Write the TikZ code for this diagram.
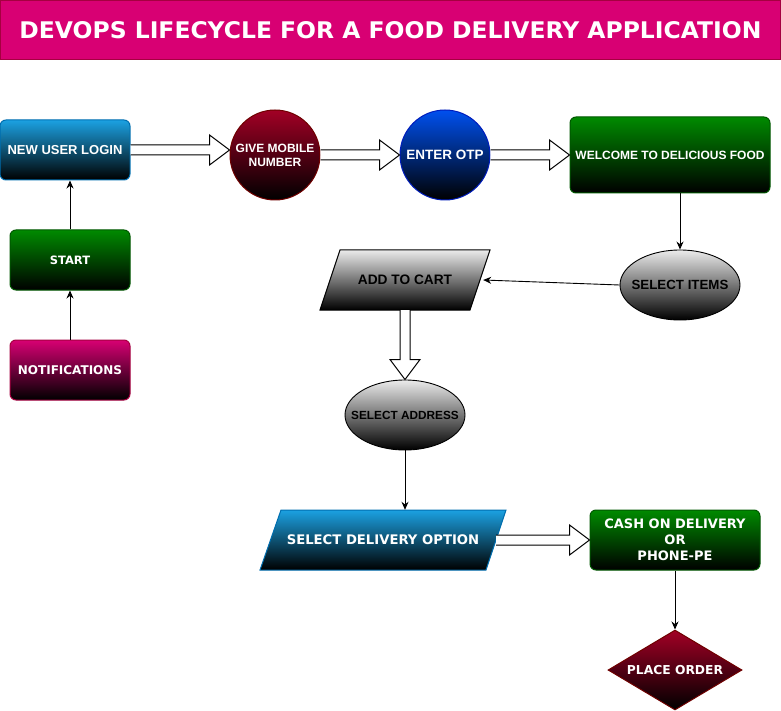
\documentclass[tikz,border=0pt]{standalone}
\usepackage{fontspec}
\setmainfont{Liberation Sans}
\newfontfamily\dvs{DejaVu Sans}
\usetikzlibrary{arrows.meta,calc,shapes.geometric}
\definecolor{magfill}{HTML}{D80073}
\definecolor{magline}{HTML}{A50040}
\definecolor{bluefill}{HTML}{1BA1E2}
\definecolor{blueline}{HTML}{006EAF}
\definecolor{greenfill}{HTML}{008A00}
\definecolor{greenline}{HTML}{005700}
\definecolor{redfill}{HTML}{A20025}
\definecolor{redline}{HTML}{6F0000}
\definecolor{cobfill}{HTML}{0050EF}
\definecolor{cobline}{HTML}{001DBC}
\definecolor{grayfill}{HTML}{EBEBEB}
\newcommand\fsz[2]{\fontsize{#1}{#2}\selectfont}
\newcommand\hblockarrow[2]{\draw[blockarr] ($(#1)+(0,-5)$) -- ($(#2)+(-20,-5)$) -- ($(#2)+(-20,-15)$) -- (#2) -- ($(#2)+(-20,15)$) -- ($(#2)+(-20,5)$) -- ($(#1)+(0,5)$);}
\newcommand\vblockarrow[2]{\draw[blockarr] ($(#1)+(-5,0)$) -- ($(#2)+(-5,-20)$) -- ($(#2)+(-15,-20)$) -- (#2) -- ($(#2)+(15,-20)$) -- ($(#2)+(5,-20)$) -- ($(#1)+(5,0)$);}
\tikzset{
  rbox/.style={rectangle, rounded corners=6pt, line width=1pt, minimum width=120, minimum height=60, inner sep=0pt, text=white, align=center},
  bluebox/.style={rbox, top color=bluefill, bottom color=black, draw=blueline},
  greenbox/.style={rbox, top color=greenfill, bottom color=black, draw=greenline},
  magbox/.style={rbox, top color=magfill, bottom color=black, draw=magline},
  circ/.style={circle, minimum size=90, inner sep=0pt, line width=1pt, text=white, align=center},
  ell/.style={ellipse, minimum width=120, minimum height=70, inner sep=0pt, top color=grayfill, bottom color=black, draw=black, line width=0.9pt},
  para/.style={line width=1pt, line join=miter},
  ghost/.style={rectangle, inner sep=0pt, minimum height=60},
  conn/.style={-{Stealth[length=8pt,width=7pt]}, line width=0.9pt},
  blockarr/.style={fill=white, draw=black, line width=1pt, line join=miter}
}
\begin{document}
\begin{tikzpicture}[x=1pt,y=-1pt]
\useasboundingbox (0,0) rectangle (781,711);
% title
\node[rectangle, fill=magfill, draw=magline, line width=1pt, minimum width=780, minimum height=59, inner sep=0pt, text=white] (title) at (390.5,30)
  {\resizebox{742pt}{17pt}{\dvs\bfseries DEVOPS LIFECYCLE FOR A FOOD DELIVERY APPLICATION}};
% left column
\node[bluebox, minimum width=130, font=\fsz{13}{15}\bfseries] (login) at (65,150) {NEW USER LOGIN};
\node[greenbox, font=\dvs\fsz{11.5}{13}\bfseries] (start) at (70,260) {START};
\node[magbox, font=\dvs\fsz{12}{14}\bfseries] (notif) at (70,370) {NOTIFICATIONS};
% top row
\node[circ, top color=redfill, bottom color=black, draw=redline, font=\fsz{12}{14}\bfseries] (gm) at (275,155) {GIVE MOBILE\\NUMBER};
\node[circ, top color=cobfill, bottom color=black, draw=cobline, font=\fsz{13.5}{15}\bfseries] (otp) at (445,155) {ENTER OTP};
\node[greenbox, minimum width=200, minimum height=76, font=\fsz{12}{14}\bfseries] (welcome) at (670,155) {WELCOME TO DELICIOUS FOOD};
% middle
\node[ell, font=\fsz{13.3}{15}\bfseries] (items) at (680,285) {\makebox[0pt]{SELECT ITEMS}};
\path[para, top color=grayfill, bottom color=black, draw=black] (320,310) -- (340,250) -- (490,250) -- (470,310) -- cycle;
\node[ghost, minimum width=156, font=\fsz{13.7}{15}\bfseries] (cart) at (405,280) {ADD TO CART};
\node[ell, font=\fsz{11.8}{14}\bfseries] (addr) at (405,415) {\makebox[0pt]{SELECT ADDRESS}};
% bottom
\path[para, top color=bluefill, bottom color=black, draw=blueline] (260,570) -- (281,510) -- (506,510) -- (486,570) -- cycle;
\node[ghost, minimum width=226, text=white, font=\dvs\fsz{13.2}{15}\bfseries] (deliv) at (383,540) {SELECT DELIVERY OPTION};
\node[greenbox, minimum width=170, font=\dvs\fsz{13}{16}\bfseries] (cash) at (675,540) {CASH ON DELIVERY\\OR\\PHONE-PE};
\node[diamond, minimum width=134, minimum height=80, inner sep=0pt, top color=redfill, bottom color=black, draw=redline, line width=1pt, text=white, font=\dvs\fsz{12.3}{14}\bfseries] (order) at (675,670) {\makebox[0pt]{PLACE ORDER}};
% block arrows
\coordinate (t1) at (login.east -| gm.west);
\hblockarrow{login.east}{t1}
\hblockarrow{gm.east}{otp.west}
\hblockarrow{otp.east}{welcome.west}
\vblockarrow{cart.south}{addr.north}
\hblockarrow{deliv.east}{cash.west}
% thin connectors
\draw[conn] (notif.north) -- (start.south);
\draw[conn] (start.north) -- (start.north |- login.south);
\draw[conn] (items.north |- welcome.south) -- (items.north);
\draw[conn] (items.west) -- (cart.east);
\draw[conn] (addr.south) -- (addr.south |- deliv.north);
\draw[conn] (cash.south) -- (order.north);
\end{tikzpicture}
\end{document}
